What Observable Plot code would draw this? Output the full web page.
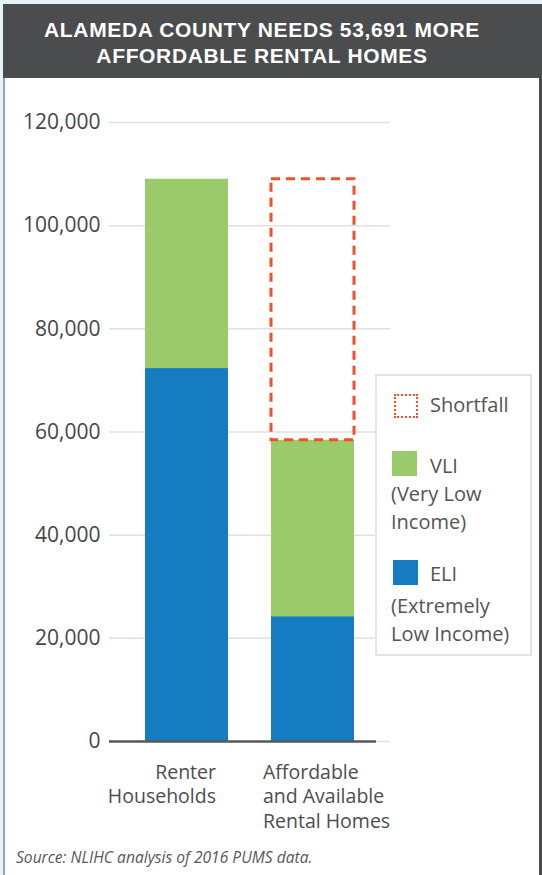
<!DOCTYPE html>
<html>
<head>
<meta charset="utf-8">
<script src="https://cdn.jsdelivr.net/npm/d3@7"></script>
<script src="https://cdn.jsdelivr.net/npm/@observablehq/plot@0.6"></script>
<style>
  html, body { margin: 0; padding: 0; }
  body { width: 542px; height: 875px; background: #e8f3f9; position: relative; overflow: hidden; font-family: "Open Sans", sans-serif; }
  #frame { position: absolute; left: 3px; top: 4px; width: 539px; height: 871px; box-sizing: border-box; background: #fff; border-left: 2px solid #9aa4a9; border-right: 3px solid #4b4c4e; }
  #header { position: absolute; left: 3px; top: 4px; width: 536px; height: 74px; background: #4b4c4e; color: #fff; font-family: "Liberation Sans", Arial, sans-serif; font-weight: 700; font-size: 21px; text-align: center; box-sizing: border-box; padding-top: 15px; padding-right: 18px; }
  #header div { height: 25.5px; line-height: 22px; white-space: nowrap; }
  #chart { position: absolute; left: 0; top: 78px; }
  #legend { position: absolute; left: 375px; top: 374px; width: 157px; height: 282px; box-sizing: border-box; border: 2px solid #e4e4e4; background: #fff; }
  .lg { position: absolute; font-size: 20px; color: #545456; white-space: nowrap; line-height: 20px; }
  .sw { position: absolute; width: 25px; height: 25px; box-sizing: border-box; }
  #source { position: absolute; left: 16px; top: 846px; font-size: 15.6px; font-style: italic; color: #58585a; }
</style>
</head>
<body>
<div id="frame"></div>
<div id="header"></div>
<div id="chart"></div>
<div id="legend"></div>
<div id="source"></div>
<script>
// ---- data ----
const titleLines = ["ALAMEDA COUNTY NEEDS 53,691 MORE", "AFFORDABLE RENTAL HOMES"];
const categories = ["Renter Households", "Affordable and Available Rental Homes"];
const categoryLabels = ["Renter\nHouseholds", "Affordable\nand Available\nRental Homes"];
const series = ["ELI", "VLI"];
const eliValues = [72300, 24200];
const vliValues = [36700, 34200];
const yTicks = [0, 20000, 40000, 60000, 80000, 100000, 120000];
const legendShortfall = "Shortfall";
const legendVLI = ["VLI", "(Very Low", "Income)"];
const legendELI = ["ELI", "(Extremely", "Low Income)"];
const sourceText = "Source: NLIHC analysis of 2016 PUMS data.";

const colors = { ELI: "#167cc1", VLI: "#9bca6a", Shortfall: "#f0502a" };

// ---- build tables ----
const rows = [];
categories.forEach((c, i) => {
  rows.push({ category: c, series: "ELI", value: eliValues[i] });
  rows.push({ category: c, series: "VLI", value: vliValues[i] });
});
const totals = categories.map((c, i) => eliValues[i] + vliValues[i]);
const shortfall = [{ category: categories[1], y1: totals[1], y2: totals[0] }];
const labelRows = categories.map((c, i) => ({ category: c, label: categoryLabels[i] }));

// header: fit the first line to the reference width
const header = document.getElementById("header");
const ctx = document.createElement("canvas").getContext("2d");
ctx.font = "700 21px 'Liberation Sans'";
const w1 = ctx.measureText(titleLines[0]).width;
const ls = Math.max(-1, Math.min(2, (437 - w1) / titleLines[0].length));
titleLines.forEach(t => {
  const d = document.createElement("div");
  d.textContent = t;
  d.style.letterSpacing = ls.toFixed(2) + "px";
  header.appendChild(d);
});
document.getElementById("source").textContent = sourceText;

const chart = Plot.plot({
  width: 542,
  height: 760,
  marginLeft: 109,
  marginRight: 152,
  marginTop: 44,
  marginBottom: 97,
  style: { fontFamily: "Open Sans, sans-serif", fontSize: "20px", color: "#4d4d4f", background: "transparent" },
  x: { domain: categories, paddingInner: 0.34, paddingOuter: 0.283, axis: null },
  y: { domain: [0, 120000], axis: null },
  color: { domain: series, range: [colors.ELI, colors.VLI] },
  marks: [
    Plot.gridY(yTicks, { stroke: "#e0e0e0", strokeOpacity: 1, strokeWidth: 1.5 }),
    Plot.axisY(yTicks, { tickSize: 0, tickPadding: 9, tickFormat: d3.format(","), fill: "#454547", fontSize: 21, letterSpacing: "-0.3px" }),
    Plot.barY(rows, { x: "category", y: "value", fill: "series" }),
    Plot.barY(shortfall, { x: "category", y1: "y1", y2: "y2", fill: "none", stroke: colors.Shortfall, strokeWidth: 3, strokeDasharray: "9,6" }),
    Plot.ruleY([0], { stroke: "#58585a", strokeWidth: 2.5, insetRight: 14 }),
    Plot.text(labelRows.filter(d => d.category === categories[0]), { x: "category", y: () => 0, text: "label", textAnchor: "end", lineAnchor: "top", dx: 29, dy: 20, lineHeight: 1.25, fill: "#4d4d4f", fontSize: 19.5 }),
    Plot.text(labelRows.filter(d => d.category === categories[1]), { x: "category", y: () => 0, text: "label", textAnchor: "start", lineAnchor: "top", dx: -50, dy: 20, lineHeight: 1.25, fill: "#4d4d4f", fontSize: 19.5 })
  ]
});
document.getElementById("chart").appendChild(chart);

// ---- legend (HTML) ----
const lg = document.getElementById("legend");
function addText(t, x, y) {
  const d = document.createElement("div");
  d.className = "lg"; d.textContent = t;
  d.style.left = (x - 375) + "px"; d.style.top = (y - 374) + "px";
  lg.appendChild(d);
}
function addSwatch(x, y, style) {
  const d = document.createElement("div");
  d.className = "sw";
  d.style.left = (x - 375) + "px"; d.style.top = (y - 374) + "px";
  Object.assign(d.style, style);
  lg.appendChild(d);
}
addSwatch(392, 392, { border: "2.5px dotted " + colors.Shortfall, width: "24px", height: "24px" });
addText(legendShortfall, 428, 393);
addSwatch(390, 449, { background: colors.VLI });
addText(legendVLI[0], 428, 454);
addText(legendVLI[1], 389, 482);
addText(legendVLI[2], 389, 510);
addSwatch(391, 558, { background: colors.ELI });
addText(legendELI[0], 428, 562);
addText(legendELI[1], 389, 594);
addText(legendELI[2], 389, 622);
</script>
</body>
</html>
